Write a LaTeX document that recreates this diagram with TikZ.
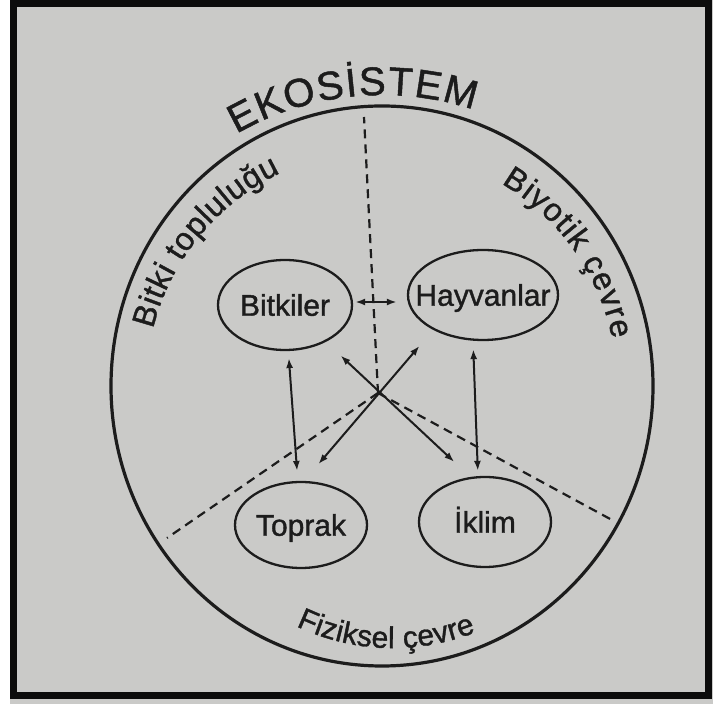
\documentclass[tikz,border=0pt]{standalone}
\usepackage{fontspec}
\setmainfont{Liberation Sans}
\newfontfamily\heavy[FakeBold=1.2]{Liberation Sans}
\usetikzlibrary{shapes.geometric,arrows.meta,decorations.text}
\definecolor{paper}{RGB}{202,202,200}
\definecolor{ink}{RGB}{28,28,28}
\definecolor{framecol}{RGB}{12,12,12}
\begin{document}
\begin{tikzpicture}[x=1pt,y=1pt,
  oval/.style={ellipse, draw=ink, line width=2.3pt, inner sep=0pt},
  lbl/.style={inner sep=0pt, text=ink, font=\heavy\fontsize{30}{30}\selectfont, text height=21.5pt, text depth=0pt},
  link/.style={draw=ink, line width=2pt, {Latex[length=10pt,width=7pt]}-{Latex[length=10pt,width=7pt]}},
  divider/.style={draw=ink, line width=2.2pt, dash pattern=on 9pt off 6pt},
]
\useasboundingbox (0,0) rectangle (713,704);
\fill[white] (0,0) rectangle (713,704);
\fill[paper] (10,0) rectangle (713,704);
\draw[framecol, line width=7pt] (13.5,8) rectangle (708.5,700.5);

% outer circle
\node[ellipse, draw=ink, line width=3.2pt, minimum width=542pt, minimum height=560pt, inner sep=0pt] (eco) at (382,318) {};
\coordinate (C) at (382,318);
\coordinate (C2) at (392.8,279.6);

% dashed dividers
\coordinate (J) at (378,311);
\coordinate (dT) at (364,587);
\coordinate (dL) at (167,166);
\coordinate (dR) at (612,184);
\draw[divider] (J) -- (dT);
\draw[divider] (J) -- (dL);
\draw[divider] (J) -- (dR);

% ellipses
\node[oval, minimum width=134pt, minimum height=90pt] (bit) at (285,399) {};
\node[lbl] (bitT) at (bit) {Bitkiler};
\node[oval, minimum width=150pt, minimum height=90pt] (hay) at (483,409) {};
\node[lbl] (hayT) at (hay) {Hayvanlar};
\node[oval, minimum width=132pt, minimum height=86pt] (topr) at (301,179) {};
\node[lbl] (toprT) at (topr) {Toprak};
\node[oval, minimum width=132pt, minimum height=90pt] (ikl) at (485,182) {};
\node[lbl] (iklT) at (ikl) {İklim};

% arrows
\draw[link, shorten <=2pt, shorten >=10pt] ([yshift=3pt]bit.east) -- ([yshift=-7pt]hay.west);
\draw[link, shorten <=7pt, shorten >=10pt] (bit) -- (topr);
\draw[link, shorten <=8pt, shorten >=5pt] ([xshift=-10pt]hay.south) -- ([xshift=-7pt]ikl.north);
\draw[link, shorten <=20pt, shorten >=22pt] (bit.-42) -- (ikl.108);
\draw[link, shorten <=21pt, shorten >=22pt] (hay.-145) -- (topr.86);

% curved labels
\path[decorate, decoration={text along path, text align={fit to path}, text={|\heavy\fontsize{40}{40}\selectfont\color{ink}|EKOSİSTEM}}] ([shift={(120:291)}]C) arc[start angle=120, end angle=71.7, radius=291];
\path[decorate, decoration={text along path, text align={fit to path}, text={|\heavy\fontsize{32}{32}\selectfont\color{ink}|Bitki topluluğu}}] ([shift={(166:236)}]C) arc[start angle=166, end angle=115.5, radius=236];
\path[decorate, decoration={text along path, text align={fit to path}, text={|\heavy\fontsize{32}{32}\selectfont\color{ink}|Biyotik çevre}}] ([shift={(59.5:235)}]C) arc[start angle=59.5, end angle=11.5, radius=235];
\path[decorate, decoration={text along path, text align={fit to path}, text={|\heavy\fontsize{30}{30}\selectfont\color{ink}|Fiziksel çevre}}] ([shift={(244.4:223.7)}]C2) arc[start angle=244.4, end angle=291.8, radius=223.7];
\end{tikzpicture}
\end{document}
